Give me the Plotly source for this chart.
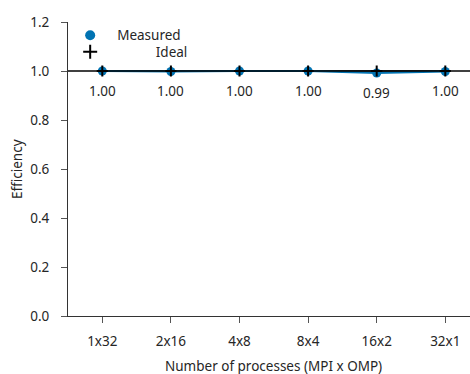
import plotly.graph_objects as go

# Hybrid MPI x OpenMP configurations and measured parallel efficiency
configs = ["1x32", "2x16", "4x8", "8x4", "16x2", "32x1"]
measured = [1.000, 0.998, 1.000, 1.000, 0.992, 0.998]
ideal = [1.0, 1.0, 1.0, 1.0, 1.0, 1.0]
y_ticks = [0.0, 0.2, 0.4, 0.6, 0.8, 1.0, 1.2]

BLUE = "#0173B2"
TEXT = "#262626"
FONT = "Noto Sans"
FS = 13.5

x_idx = list(range(len(configs)))

fig = go.Figure()

fig.add_trace(go.Scatter(
    x=x_idx, y=measured, name="Measured", showlegend=False,
    mode="lines+markers",
    line=dict(color=BLUE, width=2),
    marker=dict(color=BLUE, size=9, symbol="circle"),
))
fig.add_trace(go.Scatter(
    x=x_idx, y=ideal, name="Ideal", showlegend=False,
    mode="lines+markers",
    line=dict(color="black", width=1.5),
    marker=dict(color="black", size=8, symbol="cross-thin",
                line=dict(color="black", width=2)),
))

# Legend entries (marker only), one legend box per row
fig.add_trace(go.Scatter(
    x=[None], y=[None], name="Measured", mode="markers", legend="legend",
    marker=dict(color=BLUE, size=10, symbol="circle"),
))
fig.add_trace(go.Scatter(
    x=[None], y=[None], name="\u00a0" * 11 + "Ideal", mode="markers",
    legend="legend2",
    marker=dict(color="black", size=10, symbol="cross-thin",
                line=dict(color="black", width=2)),
))

# Ideal efficiency reference across the full width
fig.add_shape(type="line", xref="paper", x0=0, x1=1, yref="y",
              y0=ideal[0], y1=ideal[0], line=dict(color="black", width=1.5),
              layer="below")

# Value labels beneath each measured point
for xi, v in zip(x_idx, measured):
    fig.add_annotation(x=xi, y=v, text=f"{v:.2f}", showarrow=False,
                       yshift=-20, font=dict(size=FS, color=TEXT, family=FONT))

# Axis titles
fig.add_annotation(text="Number of processes (MPI x OMP)", xref="paper",
                   yref="paper", x=0.51, y=0, xanchor="center",
                   yanchor="middle", yshift=-50, showarrow=False,
                   font=dict(size=FS, color=TEXT, family=FONT))
fig.add_annotation(text="Efficiency", xref="paper", yref="paper", x=0,
                   y=0.5, xanchor="center", yanchor="middle", xshift=-51,
                   textangle=-90, showarrow=False,
                   font=dict(size=FS, color=TEXT, family=FONT))

legend_style = dict(xanchor="left", yanchor="top", bgcolor="rgba(0,0,0,0)",
                    font=dict(size=FS), itemwidth=44)

fig.update_layout(
    width=470, height=374,
    margin=dict(l=68, r=0, t=22, b=58),
    paper_bgcolor="white", plot_bgcolor="white",
    font=dict(family=FONT, size=FS, color=TEXT),
    showlegend=True,
    legend=dict(x=-0.012, y=1.007, **legend_style),
    legend2=dict(x=-0.012, y=0.951, **legend_style),
    xaxis=dict(
        range=[-0.5, 5.36],
        tickmode="array", tickvals=x_idx, ticktext=configs,
        showgrid=False, zeroline=False, automargin=False,
        showline=True, linecolor="#333333", linewidth=1,
        ticks="outside", ticklen=6, tickcolor="#555555",
        ticklabelstandoff=7,
        tickfont=dict(size=FS),
    ),
    yaxis=dict(
        range=[0, 1.2],
        tickmode="array", tickvals=y_ticks,
        ticktext=[f"{t:.1f}" for t in y_ticks],
        showgrid=False, zeroline=False, automargin=False,
        showline=True, linecolor="#333333", linewidth=1,
        ticks="outside", ticklen=6, tickcolor="#555555",
        ticklabelstandoff=9,
        tickfont=dict(size=FS),
    ),
)

fig.write_html("out.html")
